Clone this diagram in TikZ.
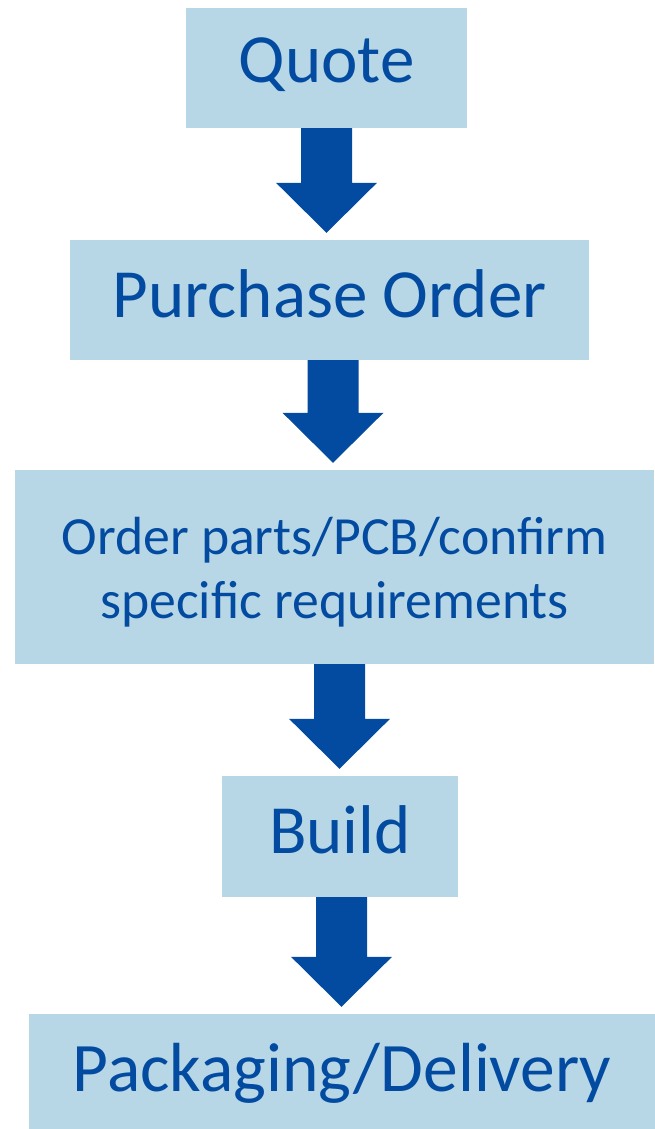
\documentclass[tikz,border=0pt]{standalone}
\usepackage{fontspec}
\setmainfont{Carlito}
\usetikzlibrary{calc}
\definecolor{boxfill}{RGB}{183,215,230}
\definecolor{ink}{RGB}{2,75,160}
\tikzset{
  flowbox/.style={rectangle, fill=boxfill, draw=none, inner sep=0pt, text=ink, align=center},
  bigtext/.style={font=\fontsize{69}{82}\selectfont},
  midtext/.style={font=\fontsize{53.7}{64}\selectfont},
  bigarrow/.style={fill=ink, draw=none}
}
\newcommand{\flowarrow}[3]{% from node, to node, x coordinate name
  \fill[bigarrow]
    (#1.south -| #3) ++(-25.5,0) -- ++(51,0)
    -- ($([yshift=7]#2.north -| #3)+(25.5,-50)$)
    -- ++(25,0)
    -- ([yshift=7]#2.north -| #3)
    -- ++(-50.5,-50)
    -- ++(25,0) -- cycle;
}
\begin{document}
\begin{tikzpicture}[x=1pt, y=-1pt]
\useasboundingbox (0,0) rectangle (654,1129);
\fill[white] (0,0) rectangle (654,1129);

\node[flowbox, bigtext, minimum width=281pt, minimum height=120pt,
      text height=45pt, text depth=15pt] (quote) at (326.5,68) {Quote};
\node[flowbox, bigtext, minimum width=519pt, minimum height=120pt,
      text height=47pt, text depth=13pt] (po) at (329.5,300) {Purchase Order};
\node[flowbox, midtext, minimum width=639pt, minimum height=194pt] (order) at (334.5,567)
      {\rule{0pt}{48pt}Order parts/PCB/confirm\\specific requirements};
\node[flowbox, bigtext, minimum width=236pt, minimum height=121pt,
      text height=46pt, text depth=13pt] (build) at (340,836.5) {Build};
\node[flowbox, font=\fontsize{69.5}{82}\selectfont, minimum width=626pt, minimum height=115pt,
      text height=49pt, text depth=10pt] (pack) at (342,1071.5) {Packaging/Delivery};

\coordinate (ax1) at (326.5,0);
\coordinate (ax2) at (333,0);
\coordinate (ax3) at (339.5,0);
\coordinate (ax4) at (341.5,0);

\flowarrow{quote}{po}{ax1}
\flowarrow{po}{order}{ax2}
\flowarrow{order}{build}{ax3}
\flowarrow{build}{pack}{ax4}
\end{tikzpicture}
\end{document}
